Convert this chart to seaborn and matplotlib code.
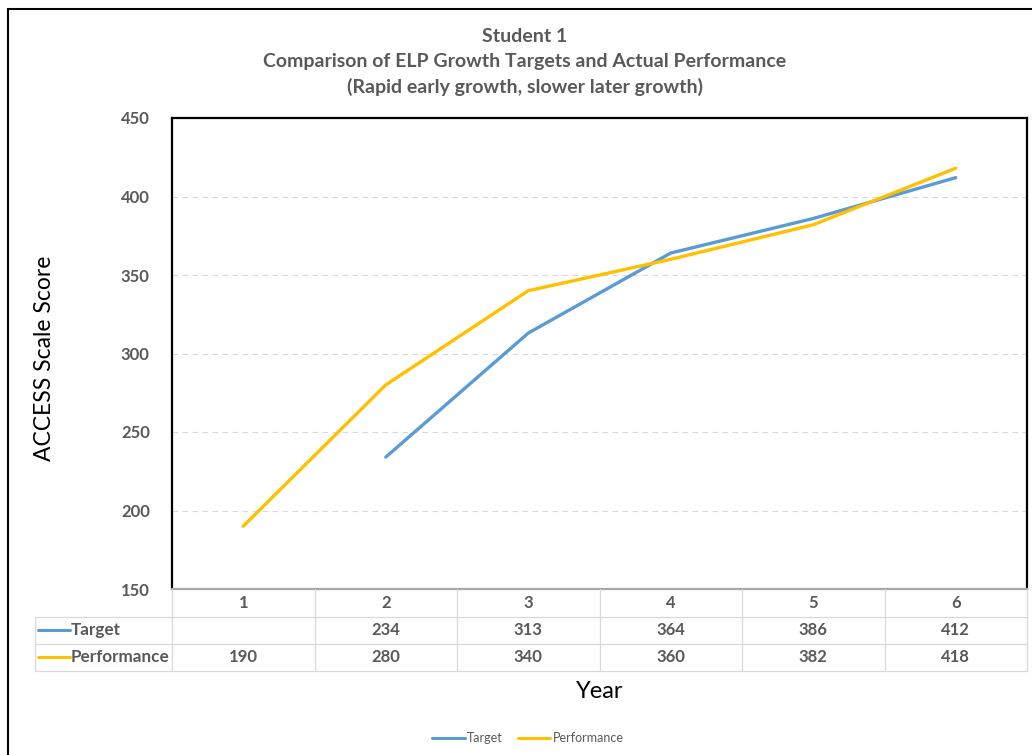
import numpy as np
import pandas as pd
import matplotlib.pyplot as plt
import seaborn as sns
from matplotlib.lines import Line2D
from matplotlib.patches import Rectangle
from matplotlib.transforms import blended_transform_factory

years = [1, 2, 3, 4, 5, 6]
target = [np.nan, 234, 313, 364, 386, 412]
performance = [190, 280, 340, 360, 382, 418]
series_names = ["Target", "Performance"]
colors = ["#5B9BD5", "#FFC000"]
title_lines = ["Student 1",
               "Comparison of ELP Growth Targets and Actual Performance",
               "(Rapid early growth, slower later growth)"]
gray = "#595959"

W, H = 1032, 755


def fx(px):
    return px / W


def fy(py):
    return 1 - py / H


df = pd.DataFrame({"Year": years * 2,
                   "Score": target + performance,
                   "Series": ["Target"] * 6 + ["Performance"] * 6})

sns.set_style("white")
plt.rcParams['font.family'] = ['Lato', 'DejaVu Sans']

fig = plt.figure(figsize=(W / 100, H / 100), dpi=100)
ax = fig.add_axes([fx(172), fy(589), fx(1027) - fx(172), fy(118) - fy(589)])

sns.lineplot(data=df, x="Year", y="Score", hue="Series", hue_order=series_names,
             palette=colors, linewidth=2.4, ax=ax, legend=False)

ax.set_xlim(0.5, 6.5)
ax.set_ylim(150, 450)
ax.set_yticks(range(150, 451, 50))
ax.set_yticklabels([str(v) for v in range(150, 451, 50)], fontsize=12, fontweight='bold', color=gray)
ax.set_xticks([])
ax.set_xlabel("")
ax.set_ylabel("")
ax.tick_params(axis='y', length=0, pad=16)
for v in range(200, 401, 50):
    ax.axhline(v, color="#D9D9D9", lw=0.8, ls=(0, (5, 4)), zorder=0)
for side in ["left", "top", "right"]:
    ax.spines[side].set_color("black")
    ax.spines[side].set_linewidth(1.6)
ax.spines["bottom"].set_color("#A6A6A6")
ax.spines["bottom"].set_linewidth(1.6)

# title
for line, py in zip(title_lines, [37, 61, 87]):
    fig.text(fx(525), fy(py), line, ha='center', va='center', fontsize=14,
             fontweight='bold', color=gray)

fig.text(fx(45), fy(358), "ACCESS Scale Score", rotation=90, ha='center', va='center',
         fontsize=16.5, color='black')
fig.text(fx(600), fy(691), "Year", ha='center', va='center', fontsize=17, color='black')

# data table below the axes
bt = blended_transform_factory(ax.transData, fig.transFigure)
grid_c = "#D9D9D9"
row_y = [603, 630, 657]
for x in np.arange(0.5, 7.0, 1.0):
    fig.add_artist(Line2D([x, x], [fy(589), fy(671)], transform=bt, color=grid_c, lw=0.9))
fig.add_artist(Line2D([fx(35), fx(35)], [fy(617), fy(671)], transform=fig.transFigure, color=grid_c, lw=0.9))
for py in [617, 644, 671]:
    fig.add_artist(Line2D([fx(35), fx(1027)], [fy(py), fy(py)], transform=fig.transFigure, color=grid_c, lw=0.9))
for yr in years:
    fig.text(yr, fy(row_y[0]), str(yr), transform=bt, ha='center', va='center',
             fontsize=12, fontweight='bold', color=gray)
for name, vals, c, py in zip(series_names, [target, performance], colors, row_y[1:]):
    fig.add_artist(Line2D([fx(38), fx(70)], [fy(py), fy(py)], transform=fig.transFigure, color=c, lw=2.2))
    fig.text(fx(71), fy(py), name, ha='left', va='center', fontsize=12.3, fontweight='bold', color=gray)
    for yr, v in zip(years, vals):
        if not np.isnan(v):
            fig.text(yr, fy(py), f"{v:.0f}", transform=bt, ha='center', va='center',
                     fontsize=12, fontweight='bold', color=gray)

# bottom legend
handles = [Line2D([], [], color=c, lw=2.2) for c in colors]
fig.legend(handles, series_names, loc='center', bbox_to_anchor=(fx(528), fy(738)), ncol=2,
           frameon=False, fontsize=9, labelcolor=gray, handlelength=2.6, handletextpad=0.2,
           columnspacing=1.2)

# outer chart border
fig.add_artist(Rectangle((fx(8), -0.05), 1.2, fy(9) + 0.05, transform=fig.transFigure,
                         fill=False, edgecolor='black', lw=1.5))

fig.savefig("out.png", dpi=100)
